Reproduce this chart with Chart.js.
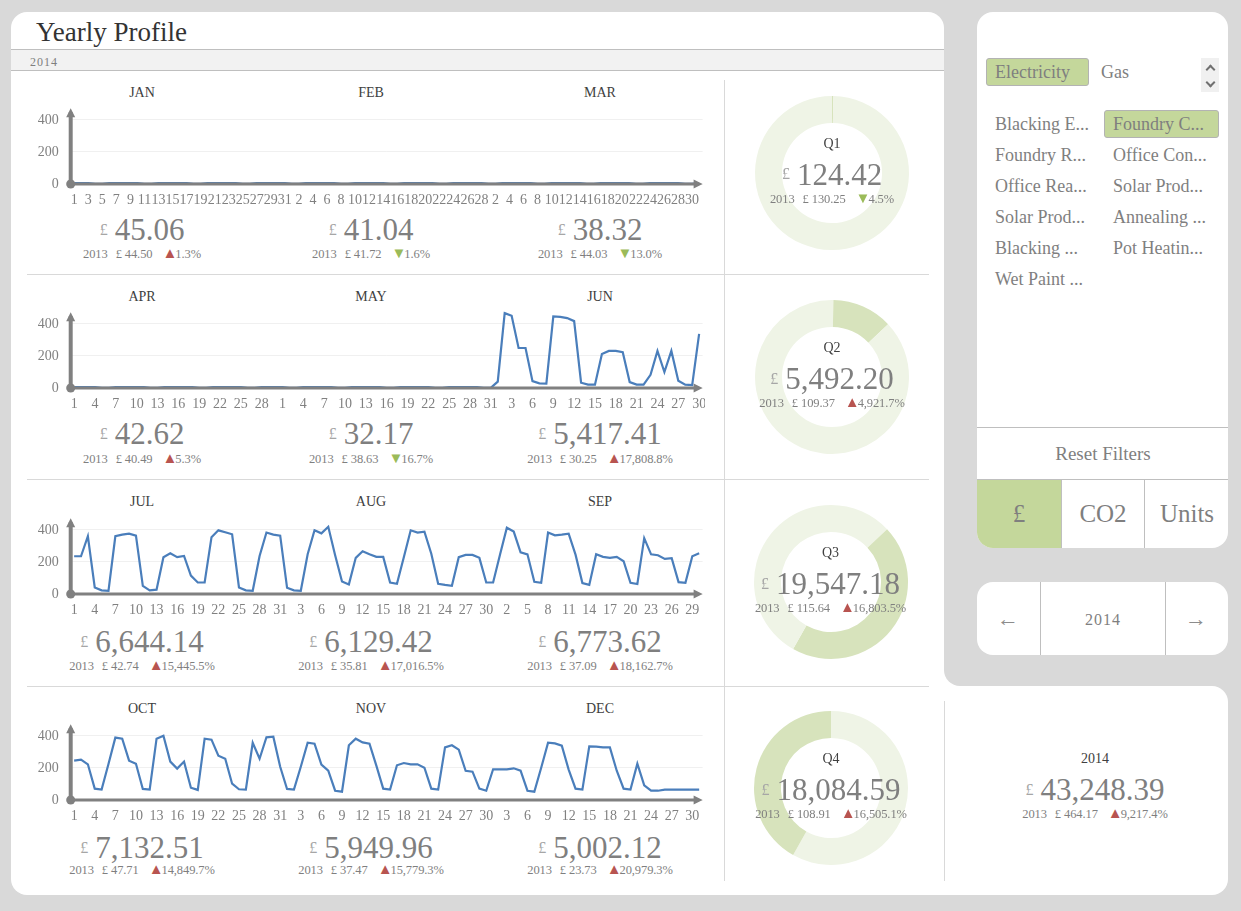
<!DOCTYPE html>
<html>
<head>
<meta charset="utf-8">
<title>Yearly Profile</title>
<script src="https://cdn.jsdelivr.net/npm/chart.js@4/dist/chart.umd.min.js"></script>
<style>
    html, body { margin: 0; padding: 0; background: #d9d9d9; }
    body { width: 1241px; height: 911px; position: relative; overflow: hidden; font-family: "Liberation Serif", serif; color: #7f7f7f; }
    .box { position: absolute; background: #fff; }
    .line { position: absolute; background: #d9d9d9; }
    canvas { position: absolute; }
    .txt { position: absolute; white-space: nowrap; transform: translate(-50%, -50%); line-height: 1; }
    .left { transform: translate(0, -50%); }
    .title { font-size: 14px; color: #404040; }
    .big { font-size: 31px; display: flex; align-items: center; gap: 7px; }
    .big small { font-size: 16px; color: #a6a6a6; }
    .sub { font-size: 12.5px; display: flex; align-items: center; gap: 8px; letter-spacing: -0.1px; }
    .up { color: #b85450; font-size: 15px; line-height: 12px; letter-spacing: -2px; }
    .down { color: #9bbb59; font-size: 15px; line-height: 12px; letter-spacing: -2px; }
    .slicer { font-size: 18px; }
    .picked { position: absolute; background: #c4d79b; border: 1px solid #b3b3b3; border-radius: 3px; box-sizing: border-box; }
    .chev { position: absolute; width: 5px; height: 5px; border-left: 2px solid #707070; border-top: 2px solid #707070; }
</style>
</head>
<body>
<div class="box" style="left:11px;top:12px;width:933px;height:883px;border-radius:16px 16px 0 16px"></div>
<div class="box" style="left:930px;top:670px;width:298px;height:225px;border-radius:0 0 16px 0"></div>
<div style="position:absolute;left:944px;top:660px;width:300px;height:26px;background:#d9d9d9;border-radius:0 0 0 16px"></div>
<div class="box" style="left:1212px;top:686px;width:16px;height:16px;background:#d9d9d9"></div>
<div class="box" style="left:1190px;top:686px;width:38px;height:40px;border-radius:0 16px 0 0"></div>
<div class="box" style="left:977px;top:12px;width:251px;height:536px;border-radius:16px"></div>
<div class="box" style="left:977px;top:582px;width:251px;height:73px;border-radius:16px"></div>

<div class="line" style="left:11px;top:49px;width:933px;height:22px;background:#f2f2f2;border-top:1px solid #bfbfbf;border-bottom:1px solid #bfbfbf;box-sizing:border-box"></div>
<div class="line" style="left:724px;top:80px;width:1px;height:801px"></div>
<div class="line" style="left:27px;top:274px;width:902px;height:1px"></div>
<div class="line" style="left:27px;top:479px;width:902px;height:1px"></div>
<div class="line" style="left:27px;top:686px;width:902px;height:1px"></div>
<div class="line" style="left:944px;top:701px;width:1px;height:180px"></div>

<div class="picked" style="left:986px;top:58px;width:103px;height:28px"></div>
<div class="picked" style="left:1104px;top:110px;width:115px;height:28px"></div>
<div class="line" style="left:1201px;top:58px;width:18px;height:34px;background:#f0f0f0"></div>
<div class="chev" style="left:1207px;top:66px;transform:rotate(45deg)"></div>
<div class="chev" style="left:1207px;top:79px;transform:rotate(225deg)"></div>
<div class="line" style="left:977px;top:427px;width:251px;height:1px;background:#bfbfbf"></div>
<div class="line" style="left:977px;top:479px;width:251px;height:1px;background:#bfbfbf"></div>
<div style="position:absolute;left:977px;top:480px;width:84px;height:68px;background:#c4d79b;border-radius:0 0 0 16px"></div>
<div class="line" style="left:1061px;top:480px;width:1px;height:68px;background:#bfbfbf"></div>
<div class="line" style="left:1144px;top:480px;width:1px;height:68px;background:#bfbfbf"></div>
<div class="line" style="left:1040px;top:582px;width:1px;height:73px;background:#bfbfbf"></div>
<div class="line" style="left:1165px;top:582px;width:1px;height:73px;background:#bfbfbf"></div>

<div id="texts"></div>

<script>
// Day numbers shown under each row of three months
const days28 = [1,2,3,4,5,6,7,8,9,10,11,12,13,14,15,16,17,18,19,20,21,22,23,24,25,26,27,28];
const days30 = [...days28, 29, 30];
const days31 = [...days30, 31];
const q1Days = [...days31, ...days28, ...days31];
const q2Days = [...days30, ...days31, ...days30];
const q3Days = [...days31, ...days31, ...days30];
const q4Days = [...days31, ...days30, ...days31];

// Daily cost
const q1Values = [
    6,6,6,1,1,6,6,6,6,6,1,1,6,6,6,6,6,1,1,6,6,6,6,6,1,1,6,6,6,6,6,
    1,1,6,6,6,6,6,1,1,6,6,6,6,6,1,1,6,6,6,6,6,1,1,6,6,6,6,6,
    1,1,6,6,6,6,6,1,1,6,6,6,6,6,1,1,6,6,6,6,6,1,1,6,6,6,6,6,1,1,6
];
const q2Values = [
    6,6,6,6,1,1,6,6,6,6,6,1,1,6,6,6,6,6,1,1,6,6,6,6,6,1,1,6,6,6,
    6,1,1,6,6,6,6,6,1,1,6,6,6,6,6,1,1,6,6,6,6,6,1,1,6,6,6,6,6,1,1,
    40,468,451,250,250,43,29,27,447,445,437,418,33,21,21,213,232,232,224,37,21,21,82,232,100,232,45,21,18,338
];
const q3Values = [
    236,236,361,41,23,20,361,371,377,365,51,23,27,230,254,230,238,115,72,72,355,398,386,373,41,23,20,238,384,371,365,
    39,23,20,248,398,379,420,242,78,60,226,267,248,232,232,72,64,230,398,384,390,252,64,57,51,230,244,244,226,72,
    72,246,414,390,260,248,76,70,384,367,371,377,246,68,57,248,232,226,232,205,70,62,349,248,242,219,224,74,70,236,254
];
const q4Values = [
    246,252,223,71,65,225,390,383,246,227,69,65,383,402,240,196,240,77,63,383,377,277,258,102,67,65,358,258,392,396,208,
    69,65,208,358,352,221,183,58,52,342,383,360,352,215,71,65,217,231,223,223,202,71,65,329,342,315,183,177,71,
    58,192,192,192,198,183,58,52,202,358,354,340,190,71,65,335,333,329,329,183,71,65,227,92,58,58,65,65,65,65,65,65
];

// Monthly figures
const monthNames = ['JAN','FEB','MAR','APR','MAY','JUN','JUL','AUG','SEP','OCT','NOV','DEC'];
const monthTotals = ['45.06','41.04','38.32','42.62','32.17','5,417.41','6,644.14','6,129.42','6,773.62','7,132.51','5,949.96','5,002.12'];
const monthPrev = ['44.50','41.72','44.03','40.49','38.63','30.25','42.74','35.81','37.09','47.71','37.47','23.73'];
const monthChange = ['1.3','-1.6','-13.0','5.3','-16.7','17,808.8','15,445.5','17,016.5','18,162.7','14,849.7','15,779.3','20,979.3'];

// Quarterly figures
const quarterNames = ['Q1','Q2','Q3','Q4'];
const quarterValues = [124.42, 5492.20, 19547.18, 18084.59];
const quarterTotals = ['124.42','5,492.20','19,547.18','18,084.59'];
const quarterPrev = ['130.25','109.37','115.64','108.91'];
const quarterChange = ['-4.5','4,921.7','16,803.5','16,505.1'];

// Slicer captions
const fuelTypes = ['Electricity','Gas'];
const slicerItems = ['Blacking E...','Foundry C...','Foundry R...','Office Con...','Office Rea...','Solar Prod...','Solar Prod...','Annealing ...','Blacking ...','Pot Heatin...','Wet Paint ...'];
const unitLabels = ['£','CO2','Units'];

// Layout, one entry per row of the dashboard
const rowAxisY = [184.3, 388.3, 594.3, 800.3];
const rowTitleY = [93, 297, 502, 709];
const rowBigY = [229, 433, 641, 847];
const rowSubY = [254, 459, 666, 870];
const columnX = [142, 371, 600];
const donutY = [172.5, 377, 582, 788];
const donutX = [832, 832, 830.5, 831];

const textLayer = document.getElementById('texts');

const addText = (html, x, y, cls, style) => {
    const el = document.createElement('div');
    el.className = 'txt ' + (cls || '');
    el.style.left = x + 'px';
    el.style.top = y + 'px';
    if (style) el.style.cssText += style;
    el.innerHTML = html;
    textLayer.appendChild(el);
};

// One block of title, big number and the comparison with 2013
const addStat = (title, total, prev, change, x, titleY, bigY, subY) => {
    addText(title, x, titleY, 'title');
    addText(`<small>£</small><span>${total}</span>`, x, bigY, 'big');
    const down = change.startsWith('-');
    const arrow = down ? '<span class="down">▼</span>' : '<span class="up">▲</span>';
    const pct = change.replace('-', '');
    addText(`<span>2013</span><span>£ ${prev}</span><span style="margin-left:2px">${arrow}${pct}%</span>`, x, subY, 'sub');
};

monthNames.forEach((name, i) => {
    const row = Math.floor(i / 3);
    addStat(name, monthTotals[i], monthPrev[i], monthChange[i], columnX[i % 3], rowTitleY[row], rowBigY[row], rowSubY[row]);
});
quarterNames.forEach((name, i) => {
    const offset = [144, 348, 553, 759][i];
    addStat(name, quarterTotals[i], quarterPrev[i], quarterChange[i], donutX[i], offset, donutY[i] + 1, offset + 55);
});
addStat('2014', '43,248.39', '464.17', '9,217.4', 1095, 759, 789, 814);

addText('Yearly Profile', 36, 32, 'left', 'font-size:27px;color:#333');
addText('2014', 30, 62, 'left', 'font-size:12px;letter-spacing:1px');
addText(fuelTypes[0], 995, 72, 'left slicer');
addText(fuelTypes[1], 1101, 72, 'left slicer');
slicerItems.forEach((item, i) => {
    addText(item, i % 2 ? 1113 : 995, 124 + Math.floor(i / 2) * 31, 'left slicer');
});
addText('Reset Filters', 1103, 453, '', 'font-size:19px');
addText(unitLabels[0], 1019, 513, '', 'font-size:25px');
addText(unitLabels[1], 1103, 513, '', 'font-size:25px');
addText(unitLabels[2], 1187, 513, '', 'font-size:25px');
addText('←', 1008, 619, '', 'font-size:22px;color:#8c8c8c;font-family:Liberation Serif');
addText('2014', 1103, 620, '', 'font-size:16px;letter-spacing:1px');
addText('→', 1196, 619, '', 'font-size:22px;color:#8c8c8c;font-family:Liberation Serif');

// Draws the grey axes with arrow heads on top of the line
const arrowAxes = {
    id: 'arrowAxes',
    afterDatasetsDraw(chart) {
        const { ctx, scales: { y }, chartArea } = chart;
        const y0 = y.getPixelForValue(0);
        const left = chartArea.left;
        const right = chartArea.right;
        const top = chartArea.top + 1;
        ctx.save();
        ctx.strokeStyle = '#808080';
        ctx.fillStyle = '#808080';
        ctx.lineWidth = 3.2;
        ctx.beginPath();
        ctx.moveTo(left, y0);
        ctx.lineTo(right - 4, y0);
        ctx.stroke();
        ctx.lineWidth = 4;
        ctx.beginPath();
        ctx.moveTo(left, y0);
        ctx.lineTo(left, top + 4);
        ctx.stroke();
        ctx.beginPath();
        ctx.moveTo(right, y0);
        ctx.lineTo(right - 9, y0 - 4.5);
        ctx.lineTo(right - 9, y0 + 4.5);
        ctx.fill();
        ctx.beginPath();
        ctx.moveTo(left, top);
        ctx.lineTo(left - 4.5, top + 9);
        ctx.lineTo(left + 4.5, top + 9);
        ctx.fill();
        ctx.beginPath();
        ctx.arc(left, y0, 4.5, 0, Math.PI * 2);
        ctx.fill();
        ctx.restore();
    }
};

const addCanvas = (left, top, width, height) => {
    const canvas = document.createElement('canvas');
    canvas.width = width;
    canvas.height = height;
    canvas.style.left = left + 'px';
    canvas.style.top = top + 'px';
    canvas.style.width = width + 'px';
    canvas.style.height = height + 'px';
    textLayer.parentNode.insertBefore(canvas, textLayer);
    return canvas.getContext('2d');
};

// Line chart for one row of three months
const renderRow = (labels, values, axisY, step) => {
    const ctx = addCanvas(20, axisY + 27 - 110, 685, 110);
    new Chart(ctx, {
        type: 'line',
        data: {
            labels,
            datasets: [{
                data: values,
                borderColor: '#4a7ebb',
                borderWidth: 2.2,
                pointRadius: 0,
                tension: 0,
                fill: false
            }]
        },
        options: {
            responsive: false,
            animation: false,
            layout: { padding: { top: 6.2, right: 2.4 } },
            plugins: { legend: { display: false }, tooltip: { enabled: false } },
            scales: {
                x: {
                    offset: true,
                    // keep the plot area fixed so the rows line up with each other
                    afterFit: (s) => { s.height = 27; s.paddingLeft = 0; s.paddingRight = 0; },
                    grid: { display: false },
                    border: { display: false },
                    ticks: {
                        autoSkip: false,
                        maxRotation: 0,
                        minRotation: 0,
                        padding: 0,
                        color: '#808080',
                        font: { family: 'Liberation Serif', size: 14 },
                        callback(value, index) { return index % step === 0 ? this.getLabelForValue(value) : null; }
                    }
                },
                y: {
                    min: 0,
                    max: 480,
                    afterFit: (s) => { s.width = 50.7; s.paddingTop = 0; s.paddingBottom = 0; },
                    grid: { color: '#f0f0f0', drawTicks: false },
                    border: { display: false },
                    ticks: {
                        stepSize: 200,
                        includeBounds: false,
                        padding: 12,
                        color: '#808080',
                        font: { family: 'Liberation Serif', size: 14 }
                    }
                }
            }
        },
        plugins: [arrowAxes]
    });
};

renderRow(q1Days, q1Values, rowAxisY[0], 2);
renderRow(q2Days, q2Values, rowAxisY[1], 3);
renderRow(q3Days, q3Values, rowAxisY[2], 3);
renderRow(q4Days, q4Values, rowAxisY[3], 3);

// Each quarter's slice starts where the previous quarter ended
const yearTotal = quarterValues.reduce((a, b) => a + b, 0);
quarterValues.forEach((value, i) => {
    const before = quarterValues.slice(0, i).reduce((a, b) => a + b, 0);
    const ctx = addCanvas(donutX[i] - 80, donutY[i] - 80, 160, 160);
    new Chart(ctx, {
        type: 'doughnut',
        data: {
            datasets: [{
                data: [before, value, yearTotal - before - value],
                backgroundColor: ['#eff4e6', '#d7e3bc', '#eff4e6'],
                borderWidth: 0
            }]
        },
        options: {
            responsive: false,
            animation: false,
            cutout: '65%',
            radius: 77,
            layout: { padding: 0 },
            plugins: { legend: { display: false }, tooltip: { enabled: false } }
        }
    });
});
</script>
</body>
</html>
